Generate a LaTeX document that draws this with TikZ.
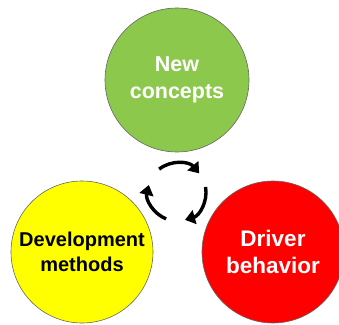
\documentclass[tikz,border=0pt]{standalone}
\usepackage{fontspec}
\setmainfont{Liberation Sans}
\usetikzlibrary{arrows.meta}
\definecolor{cgreen}{HTML}{8CC84B}
\definecolor{cyellow}{HTML}{FFFF00}
\definecolor{cred}{HTML}{FF0000}
\begin{document}
\begin{tikzpicture}[x=1pt,y=1pt,
  bubble/.style={circle, draw=black!60, line width=0.6pt, inner sep=0pt, align=center, font=\bfseries},
  cyc/.style={line width=3.4pt, -{Triangle[length=10pt,width=14pt]}}]
\useasboundingbox (0,0) rectangle (339,324);
\node[bubble, fill=cgreen, minimum size=144pt, text=white, font=\bfseries\fontsize{21.5}{27}\selectfont] (green) at (177,244) {New\\concepts};
\node[bubble, fill=cyellow, minimum size=142pt, text=black, font=\bfseries\fontsize{20}{24.5}\selectfont] (yellow) at (82,72) {Development\\methods};
\node[bubble, fill=cred, minimum size=142pt, text=white, font=\bfseries\fontsize{22.5}{27}\selectfont] (red) at (273,72) {Driver\\behavior};
\coordinate (c) at (177,132);
\draw[cyc] ([shift={(128:29)}]c) arc[start angle=128, end angle=40, radius=29];
\draw[cyc] ([shift={(10:29)}]c) arc[start angle=10, end angle=-74, radius=29];
\draw[cyc] ([shift={(-112:29)}]c) arc[start angle=-112, end angle=-194, radius=29];
\end{tikzpicture}
\end{document}
